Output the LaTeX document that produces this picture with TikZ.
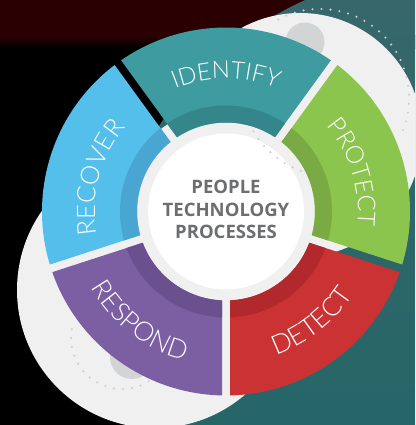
\documentclass[tikz,border=0pt]{standalone}
\usepackage{fontspec}
\newfontfamily\segfont{Lato Light}
\newfontfamily\ctrfont{Open Sans}
\usetikzlibrary{decorations.text}
\definecolor{maroon}{HTML}{2A0003}
\definecolor{tealTop}{HTML}{37676A}
\definecolor{tealBot}{HTML}{266668}
\definecolor{greyL}{HTML}{F0F0F0}
\definecolor{blobc}{HTML}{D3D4D6}
\definecolor{dotc}{HTML}{CDCDCD}
\definecolor{idC}{HTML}{3E9CA1}
\definecolor{idD}{HTML}{35868B}
\definecolor{prC}{HTML}{8CC54E}
\definecolor{prD}{HTML}{79AA43}
\definecolor{deC}{HTML}{CB3234}
\definecolor{deD}{HTML}{B1292C}
\definecolor{reC}{HTML}{7C5EA2}
\definecolor{reD}{HTML}{6B5090}
\definecolor{rcC}{HTML}{55BFEC}
\definecolor{rcD}{HTML}{49A6D3}
\definecolor{ctrtext}{HTML}{6D6E70}
\newcommand{\wseg}[4]{%
  \fill[#3] ({#1+1.246}:184pt) arc[start angle={#1+1.246}, end angle={#2-1.246}, radius=184pt]
    -- ({#2-2.576}:89pt) arc[start angle={#2-2.576}, end angle={#1+2.576}, radius=89pt] -- cycle;
  \fill[#4] ({#1+2.163}:106pt) arc[start angle={#1+2.163}, end angle={#2-2.163}, radius=106pt]
    -- ({#2-2.576}:89pt) arc[start angle={#2-2.576}, end angle={#1+2.576}, radius=89pt] -- cycle;}
\tikzset{
  dotline/.style={draw=dotc, line width=2.3pt, line cap=round, dash pattern=on 0pt off 9pt},
  seglabel/.style 2 args={decorate, decoration={text along path, text align=center, text color=white,
     text={|\segfont\fontsize{#2}{#2}\selectfont|#1}}}
}
\begin{document}
\begin{tikzpicture}[x=1pt,y=1pt]
\useasboundingbox (0,0) rectangle (415,425);
\begin{scope}
\clip (0,0) rectangle (415,425);
% background
\fill[black] (0,0) rectangle (415,425);
\fill[maroon] (0,389) rectangle (415,425);
\shade[top color=maroon, bottom color=black] (0,376) rectangle (415,389.5);
\begin{scope}
  \clip (445,115) circle[radius=340pt];
  \shade[top color=tealTop, bottom color=tealBot] (0,0) rectangle (415,425);
\end{scope}
% big grey circles
\fill[greyL] (300,290) circle[radius=122pt];
\fill[greyL] (155,135) circle[radius=138pt];
% blobs
\fill[blobc] (305,383) circle[radius=19.5pt];
\fill[blobc] (132,68) circle[radius=22pt];
% outer dotted arcs
\draw[dotline] (320,327) ++(118:89pt) arc[start angle=118, end angle=-22, radius=89pt];
\draw[dotline] (122,87) ++(170:51pt) arc[start angle=170, end angle=310, radius=51pt];
% wheel
\begin{scope}[shift={(226,213.5)}]
  \fill[greyL] (0,0) circle[radius=105pt];
  \fill[white] (0,0) circle[radius=78pt];
  \draw[dotline] (108,128.5) ++(200:94pt) arc[start angle=200, end angle=262, radius=94pt];
  \wseg{54}{126}{idC}{idD}
  \wseg{126}{198}{rcC}{rcD}
  \wseg{198}{270}{reC}{reD}
  \wseg{270}{342}{deC}{deD}
  \wseg{-18}{54}{prC}{prD}
  \path[seglabel={IDENTIFY}{24}] (150:133pt) arc[start angle=150, end angle=30, radius=133pt];
  \path[seglabel={RECOVER}{25.5}] (225:131pt) arc[start angle=225, end angle=105, radius=131pt];
  \path[seglabel={PROTECT}{24.5}] (77:132pt) arc[start angle=77, end angle=-43, radius=132pt];
  \path[seglabel={DETECT}{26.5}] (248:152pt) arc[start angle=248, end angle=368, radius=152pt];
  \path[seglabel={RESPOND}{26.5}] (172:155pt) arc[start angle=172, end angle=292, radius=155pt];
  \node[align=center, text=ctrtext, font=\ctrfont\bfseries\fontsize{18.5}{22.3}\selectfont, inner sep=0pt] (ctr) at (0,2) {PEOPLE\\TECHNOLOGY\\PROCESSES};
\end{scope}
\end{scope}
\end{tikzpicture}
\end{document}
